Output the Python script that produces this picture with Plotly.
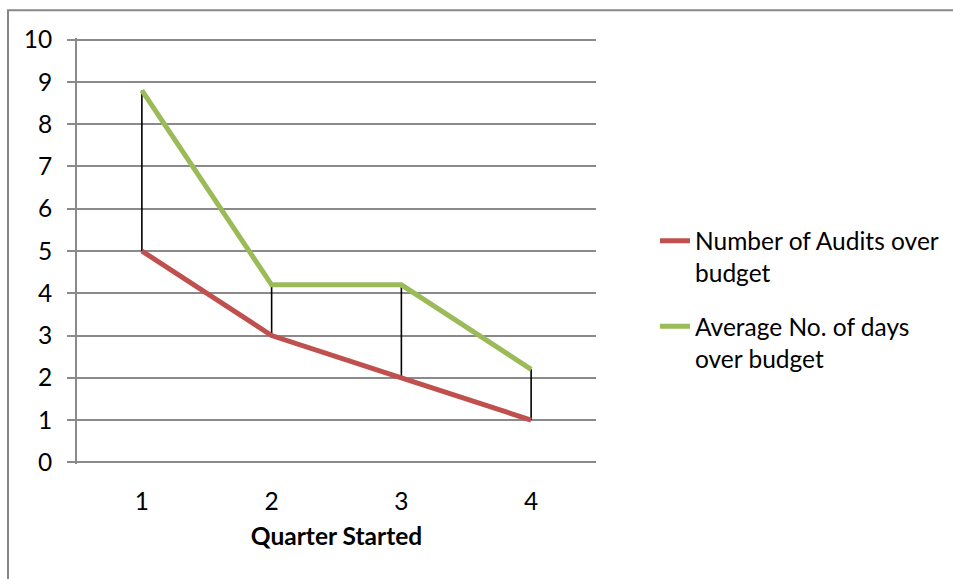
import plotly.graph_objects as go

quarters = [1, 2, 3, 4]
audits_over = [5, 3, 2, 1]
avg_days_over = [8.8, 4.2, 4.2, 2.2]
series_names = ["Number of Audits over<br>budget", "Average No. of days<br>over budget"]
x_title = "Quarter Started"
y_ticks = list(range(0, 11))

FONT = "Lato"
FS = 24.5
RED = "#c0504d"
GREEN = "#9bbb59"
GRID = "#8a8a8a"

# high-low lines built from the data
hl_x, hl_y = [], []
for q, lo, hi in zip(quarters, audits_over, avg_days_over):
    hl_x += [q, q, None]
    hl_y += [lo, hi, None]

fig = go.Figure()
fig.add_trace(go.Scatter(x=hl_x, y=hl_y, mode="lines", line=dict(color="black", width=1.6),
                         showlegend=False, hoverinfo="skip"))
fig.add_trace(go.Scatter(x=quarters, y=audits_over, mode="lines", name=series_names[0],
                         legendgroup="a", line=dict(color=RED, width=5)))
fig.add_trace(go.Scatter(x=quarters, y=avg_days_over, mode="lines", name=series_names[1],
                         legendgroup="b", line=dict(color=GREEN, width=5)))

W, H = 953, 579
UNIT = 42.25          # px per y unit
EPS = 0.04            # keep the 0 / 10 gridlines inside the plot area
PAD = EPS * UNIT
L, R = 77, 953 - 596
T = 39.5 - PAD
B = (579 - 462) - PAD
pw, ph = W - L - R, H - T - B

def px_x(p):
    return (p - L) / pw

def px_y(p):
    return (H - B - p) / ph

fig.update_layout(
    width=W, height=H,
    margin=dict(l=L, r=R, t=T, b=B, pad=0, autoexpand=False),
    paper_bgcolor="white", plot_bgcolor="white",
    font=dict(family=FONT, size=FS, color="black"),
    xaxis=dict(range=[0.5, 4.5], tickvals=quarters, ticktext=[str(q) for q in quarters],
               showgrid=False, zeroline=False, showline=False, ticks="",
               ticklabelstandoff=20,
               title=dict(text="<b>" + x_title + "</b>", standoff=14,
                          font=dict(family=FONT, size=FS))),
    yaxis=dict(range=[-EPS, 10 + EPS], tickvals=y_ticks, showgrid=True, gridcolor=GRID, gridwidth=2,
               zeroline=False, showline=True, linecolor=GRID, linewidth=2,
               ticks="outside", ticklen=8, tickcolor=GRID, tickwidth=2,
               ticklabelstandoff=10),
    legend=dict(x=px_x(655), y=px_y(218), xanchor="left", yanchor="top",
                valign="top", font=dict(family=FONT, size=FS), tracegroupgap=19,
                traceorder="grouped", bgcolor="rgba(0,0,0,0)"),
    shapes=[dict(type="rect", xref="paper", yref="paper",
                 x0=px_x(8), x1=px_x(1000), y0=px_y(650), y1=px_y(10),
                 line=dict(color="#878787", width=2), layer="below")],
)

fig.write_html("out.html")
